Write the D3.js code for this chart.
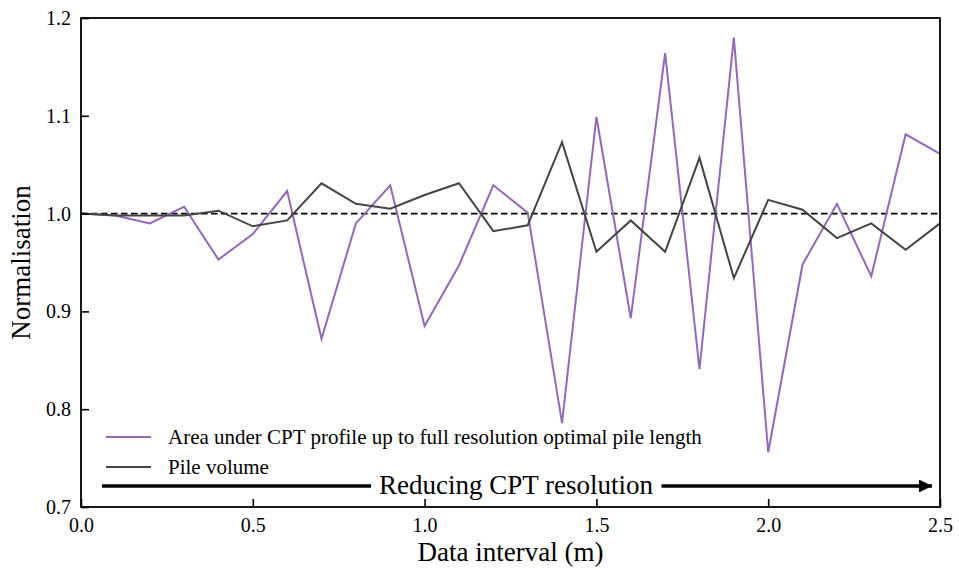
<!DOCTYPE html>
<html>
<head>
<meta charset="utf-8">
<script src="https://cdn.jsdelivr.net/npm/d3@7"></script>
<style>
  body { margin: 0; background: #fff; }
  svg text { font-family: "Liberation Serif", "Times New Roman", serif; fill: #000; }
</style>
</head>
<body>
<svg id="chart"></svg>
<script>
// data interval (m)
const intervals = [0.0, 0.1, 0.2, 0.3, 0.4, 0.5, 0.6, 0.7, 0.8, 0.9, 1.0, 1.1, 1.2,
  1.3, 1.4, 1.5, 1.6, 1.7, 1.8, 1.9, 2.0, 2.1, 2.2, 2.3, 2.4, 2.5];
const areaCPT = [1.000, 0.998, 0.990, 1.007, 0.953, 0.979, 1.023, 0.872, 0.990, 1.029,
  0.885, 0.947, 1.029, 1.001, 0.786, 1.099, 0.893, 1.164, 0.841, 1.180,
  0.756, 0.948, 1.010, 0.936, 1.081, 1.061];
const pileVolume = [1.000, 0.998, 0.998, 0.998, 1.003, 0.987, 0.993, 1.031, 1.010, 1.005,
  1.019, 1.031, 0.982, 0.988, 1.073, 0.961, 0.993, 0.961, 1.057, 0.934,
  1.014, 1.004, 0.975, 0.990, 0.963, 0.990];
const xTicks = [0.0, 0.5, 1.0, 1.5, 2.0, 2.5];
const yTicks = [0.7, 0.8, 0.9, 1.0, 1.1, 1.2];
const seriesNames = ["Area under CPT profile up to full resolution optimal pile length", "Pile volume"];

const W = 959, H = 570;
const margin = { top: 18, right: 19, bottom: 63, left: 81 };
const width = W - margin.left - margin.right;
const height = H - margin.top - margin.bottom;
const serif = "'Liberation Serif', 'Times New Roman', serif";

const svg = d3.select("#chart").attr("width", W).attr("height", H);
const g = svg.append("g").attr("transform", `translate(${margin.left},${margin.top})`);

const x = d3.scaleLinear().domain([0, 2.5]).range([0, width]);
const y = d3.scaleLinear().domain([0.7, 1.2]).range([height, 0]);

// reference line at 1.0
g.append("line")
  .attr("x1", 0).attr("x2", width)
  .attr("y1", y(1.0)).attr("y2", y(1.0))
  .attr("stroke", "#000").attr("stroke-width", 1.7)
  .attr("stroke-dasharray", "6.5,3.5");

const line = d3.line().x((d, i) => x(intervals[i])).y(d => y(d));

const colors = ["#9467bd", "#444444"];
[areaCPT, pileVolume].forEach((s, k) => {
  g.append("path")
    .datum(s)
    .attr("fill", "none")
    .attr("stroke", colors[k])
    .attr("stroke-width", 2)
    .attr("stroke-linejoin", "miter")
    .attr("d", line);
});

// axes, ticks inward
const xAxis = g.append("g")
  .attr("transform", `translate(0,${height})`)
  .call(d3.axisBottom(x).tickValues(xTicks).tickFormat(d3.format(".1f")).tickSizeInner(-8).tickSizeOuter(0).tickPadding(11));
const yAxis = g.append("g")
  .call(d3.axisLeft(y).tickValues(yTicks).tickFormat(d3.format(".1f")).tickSizeInner(-8).tickSizeOuter(0).tickPadding(10));

[xAxis, yAxis].forEach(a => {
  a.attr("font-family", serif).attr("font-size", 20);
  a.select(".domain").remove();
  a.selectAll(".tick line").attr("stroke", "#000").attr("stroke-width", 1.6);
  a.selectAll(".tick text").style("font-family", serif).style("font-size", "20px");
});

// frame
g.append("rect")
  .attr("width", width).attr("height", height)
  .attr("fill", "none").attr("stroke", "#000").attr("stroke-width", 1.8);

// legend
const legend = g.append("g").attr("transform", "translate(25,419)");
seriesNames.forEach((name, k) => {
  const row = legend.append("g").attr("transform", `translate(0,${k * 30})`);
  row.append("line").attr("x1", 0).attr("x2", 45).attr("stroke", colors[k]).attr("stroke-width", 2);
  row.append("text").attr("x", 62).attr("y", 7).style("font-size", "21px").text(name);
});

// arrow "Reducing CPT resolution"
const arrowY = 468;
svg.append("defs").append("marker")
  .attr("id", "head").attr("viewBox", "0 0 10 10")
  .attr("refX", 10).attr("refY", 5)
  .attr("markerWidth", 6.5).attr("markerHeight", 3.6)
  .attr("markerUnits", "strokeWidth")
  .attr("orient", "auto")
  .append("path").attr("d", "M0,0 L10,5 L0,10 Z").attr("fill", "#000");
g.append("line")
  .attr("x1", 21).attr("x2", 851)
  .attr("y1", arrowY).attr("y2", arrowY)
  .attr("stroke", "#000").attr("stroke-width", 3.6)
  .attr("marker-end", "url(#head)");
const bg = g.append("rect").attr("fill", "#fff");
const lbl = g.append("text")
  .attr("x", 435).attr("y", arrowY + 8)
  .attr("text-anchor", "middle")
  .style("font-size", "27px")
  .text("Reducing CPT resolution");
const bb = lbl.node().getBBox();
bg.attr("x", bb.x - 8).attr("y", arrowY - 4).attr("width", bb.width + 16).attr("height", 8);

// axis titles
svg.append("text")
  .attr("x", margin.left + width / 2).attr("y", 561)
  .attr("text-anchor", "middle")
  .style("font-size", "27px")
  .text("Data interval (m)");
svg.append("text")
  .attr("transform", `translate(30,${margin.top + height / 2}) rotate(-90)`)
  .attr("text-anchor", "middle")
  .style("font-size", "27px")
  .text("Normalisation");
</script>
</body>
</html>
